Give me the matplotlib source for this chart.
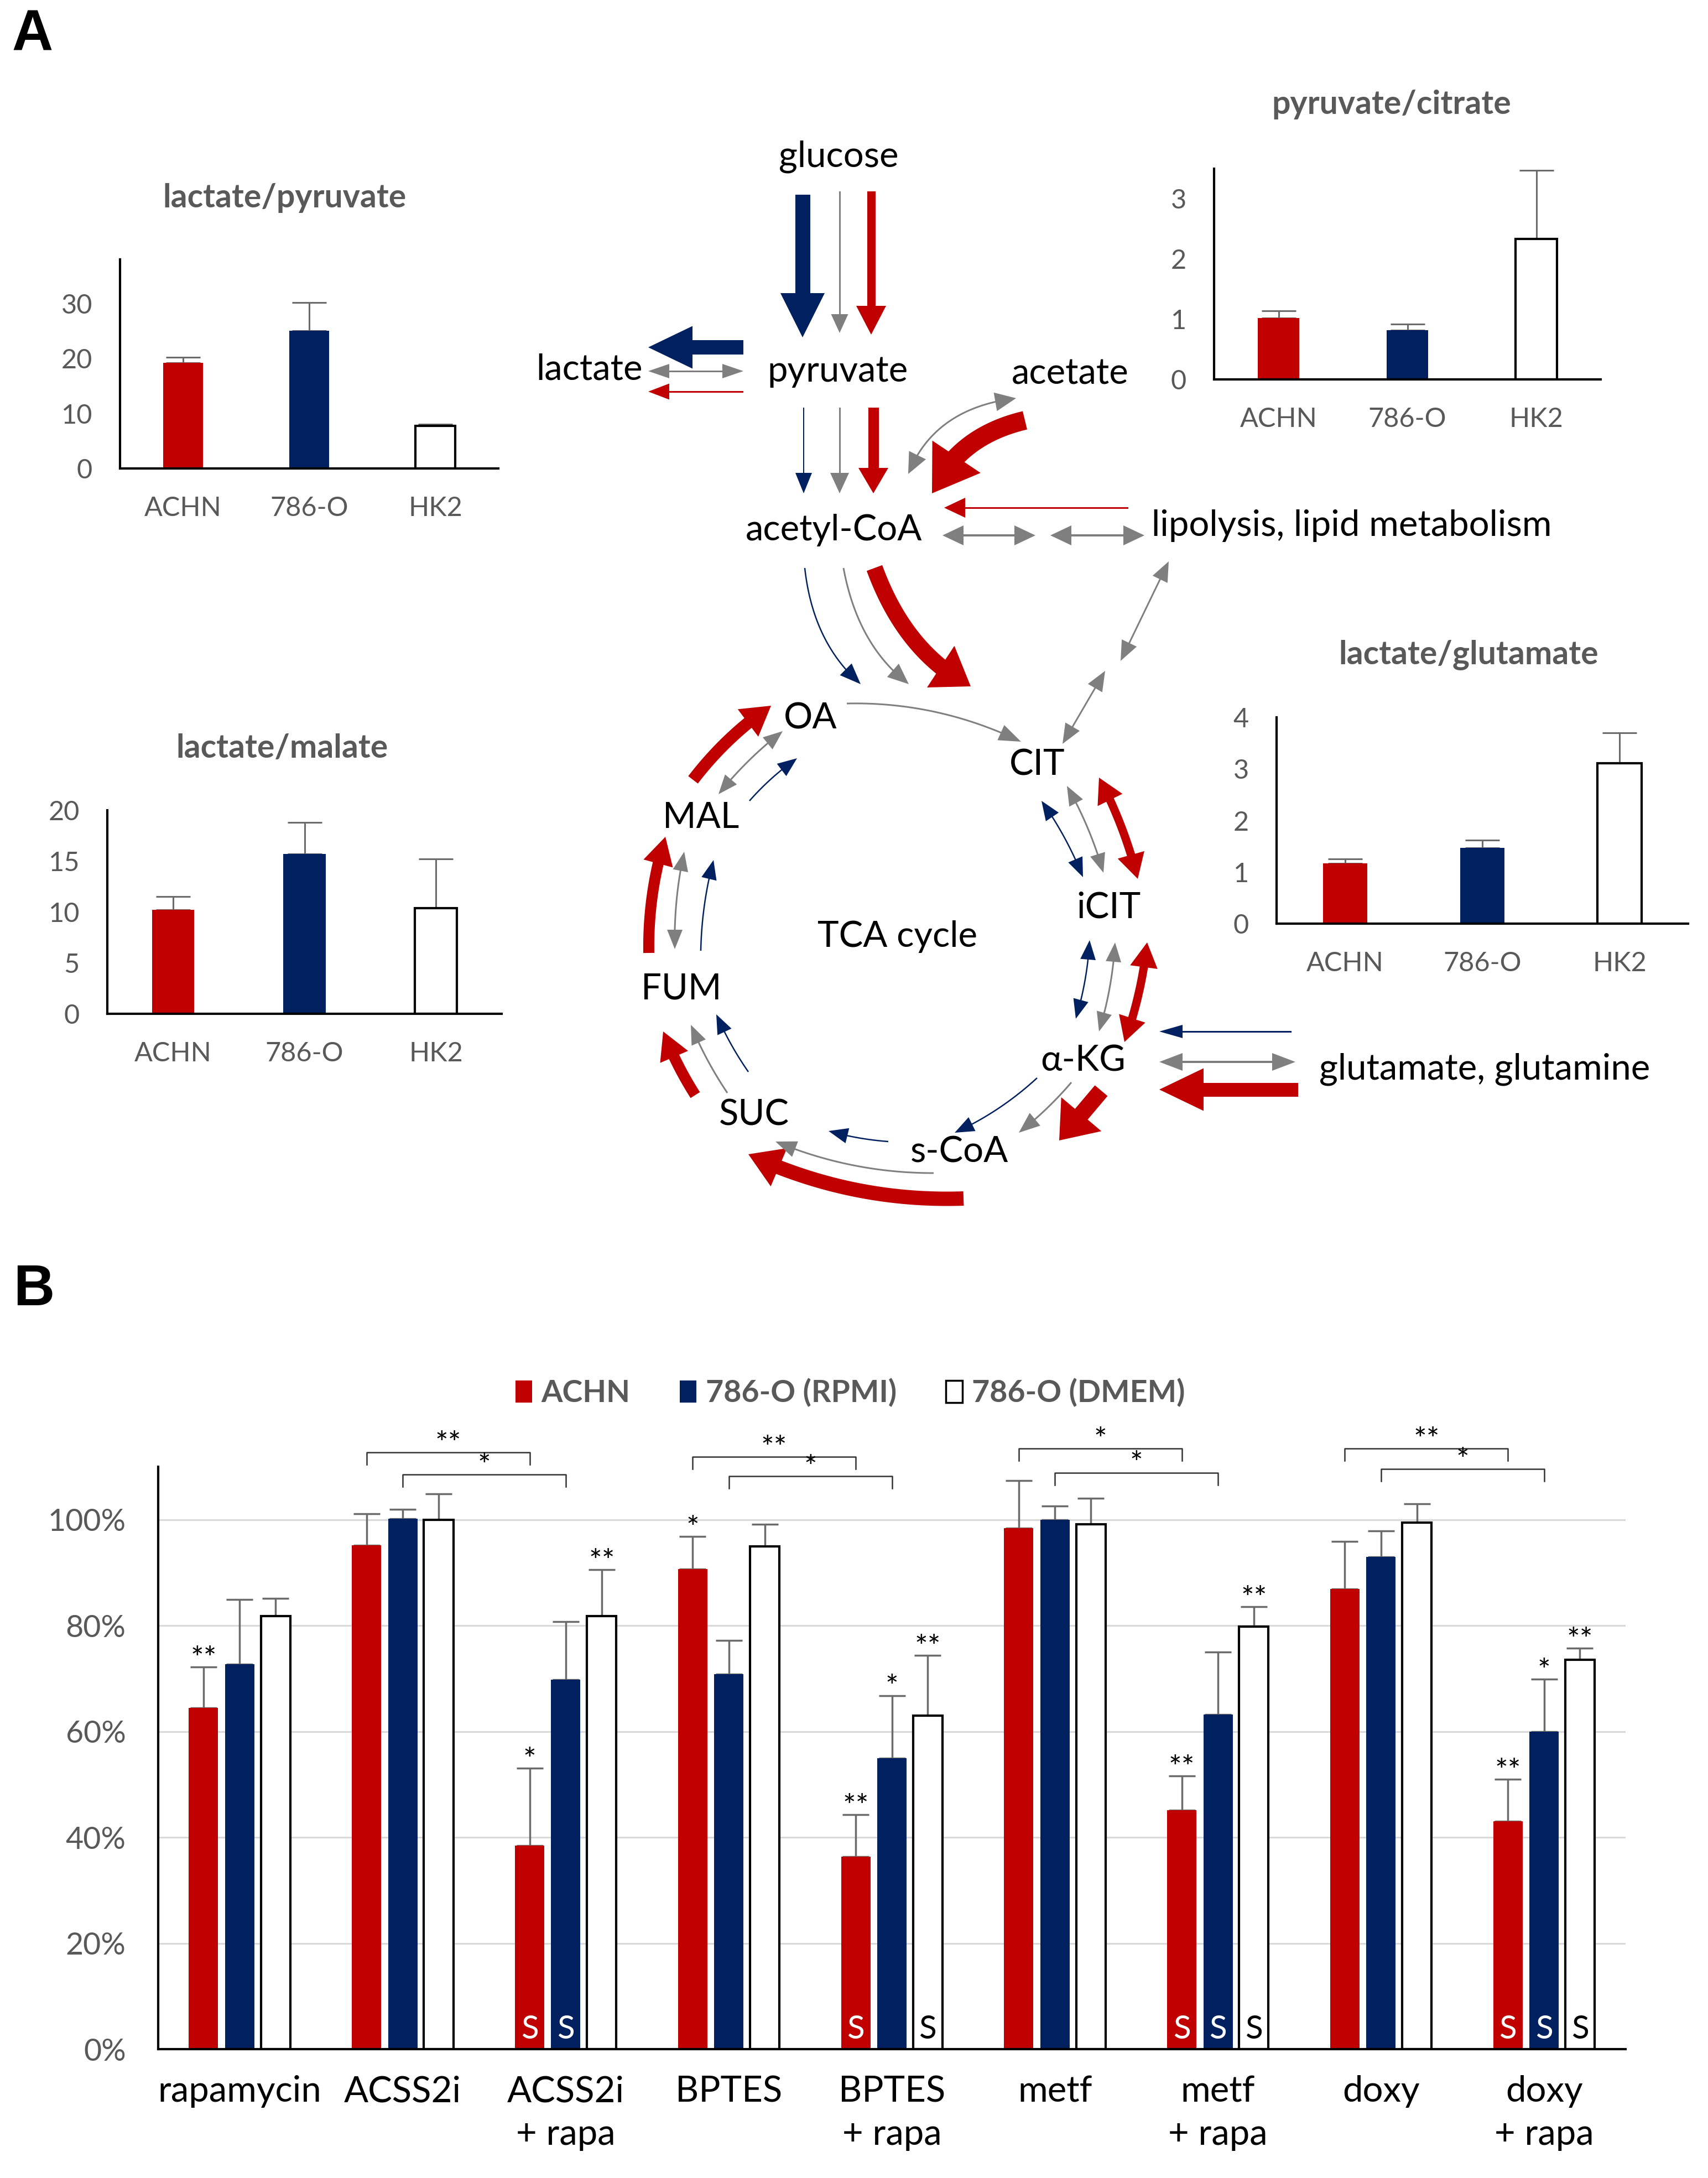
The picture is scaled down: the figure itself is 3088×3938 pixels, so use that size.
import numpy as np
import matplotlib
matplotlib.use('Agg')
import matplotlib.pyplot as plt
from matplotlib.patches import Polygon, Patch

plt.rcParams['font.family'] = ['Lato', 'DejaVu Sans']

W, H = 3088, 3938
RED = '#C00000'
NAVY = '#002060'
GRAY = '#7F7F7F'
TXT_GRAY = '#595959'
ERR_GRAY = '#6B6B6B'

# ---- panel A: small ratio charts ----
cells = ['ACHN', '786-O', 'HK2']
lac_pyr = [19.2, 25.0, 7.7]
lac_pyr_err = [1.0, 5.2, 0.3]
pyr_cit = [1.02, 0.82, 2.33]
pyr_cit_err = [0.12, 0.10, 1.14]
lac_mal = [10.2, 15.7, 10.4]
lac_mal_err = [1.3, 3.1, 4.8]
lac_glu = [1.17, 1.47, 3.11]
lac_glu_err = [0.08, 0.15, 0.59]

# ---- panel B: viability ----
treatments = ['rapamycin', 'ACSS2i', 'ACSS2i\n+ rapa', 'BPTES', 'BPTES\n+ rapa',
              'metf', 'metf\n+ rapa', 'doxy', 'doxy\n+ rapa']
achn = [64.5, 95.2, 38.4, 90.7, 36.4, 98.4, 45.1, 86.9, 43.0]
achn_err = [7.7, 5.9, 14.7, 6.1, 7.9, 9.0, 6.5, 9.0, 8.0]
rpmi = [72.7, 100.2, 69.8, 70.8, 55.0, 100.0, 63.2, 93.0, 60.0]
rpmi_err = [12.2, 1.8, 10.9, 6.4, 11.8, 2.6, 11.8, 4.9, 9.9]
dmem = [81.8, 100.0, 81.8, 95.0, 63.0, 99.1, 79.8, 99.4, 73.5]
dmem_err = [3.3, 4.9, 8.8, 4.1, 11.4, 4.9, 3.8, 3.6, 2.2]
achn_sig = ['**', '', '*', '*', '**', '', '**', '', '**']
rpmi_sig = ['', '', '', '', '*', '', '', '', '*']
dmem_sig = ['', '', '**', '', '**', '', '**', '', '**']
achn_s = [0, 0, 1, 0, 1, 0, 1, 0, 1]
rpmi_s = [0, 0, 1, 0, 0, 0, 1, 0, 1]
dmem_s = [0, 0, 0, 0, 1, 0, 1, 0, 1]
# (group a, series, group b, series, height, label)
brackets = [(1, 0, 2, 0, 112.7, '**'), (1, 1, 2, 1, 108.5, '*'),
            (3, 0, 4, 0, 111.9, '**'), (3, 1, 4, 1, 108.2, '*'),
            (5, 0, 6, 0, 113.4, '*'), (5, 1, 6, 1, 108.9, '*'),
            (7, 0, 8, 0, 113.4, '**'), (7, 1, 8, 1, 109.6, '*')]


def frame(l, t, r, b):
    return [l / W, 1 - b / H, (r - l) / W, (b - t) / H]


fig = plt.figure(figsize=(W / 100, H / 100), dpi=100)

# overlay in pixel coordinates for the pathway sketch
dg = fig.add_axes([0, 0, 1, 1])
dg.set_xlim(0, W)
dg.set_ylim(H, 0)
dg.axis('off')


def curve(p0, p1, bend=0.0, away=(1620, 1700), n=80):
    p0, p1 = np.array(p0, float), np.array(p1, float)
    if bend == 0:
        return np.vstack([p0, p1])
    mid = (p0 + p1) / 2
    u = mid - np.array(away, float)
    u /= np.hypot(*u)
    c = mid + u * bend * np.hypot(*(p1 - p0))
    t = np.linspace(0, 1, n)[:, None]
    return (1 - t) ** 2 * p0 + 2 * (1 - t) * t * c + t ** 2 * p1


def arrow(pts, color, w, hw, hl, both=False):
    pts = np.asarray(pts, float)
    if len(pts) == 2:
        pts = np.linspace(pts[0], pts[1], 20)
    d = np.r_[0, np.cumsum(np.hypot(*np.diff(pts, axis=0).T))]
    L = d[-1]
    at = lambda s: np.array([np.interp(s, d, pts[:, 0]), np.interp(s, d, pts[:, 1])])
    s0 = hl * 0.9 if both else 0
    s1 = L - hl * 0.9
    ss = np.linspace(s0, s1, 60)
    x, y = at(ss)
    tx, ty = np.gradient(x), np.gradient(y)
    nn = np.hypot(tx, ty)
    nx, ny = -ty / nn, tx / nn
    poly = np.vstack([np.c_[x + nx * w / 2, y + ny * w / 2],
                      np.c_[x - nx * w / 2, y - ny * w / 2][::-1]])
    dg.add_patch(Polygon(poly, closed=True, fc=color, ec='none'))
    ends = [(pts[-1], at(L - hl))]
    if both:
        ends.append((pts[0], at(hl)))
    for tip, base in ends:
        u = (tip - base) / np.hypot(*(tip - base))
        nv = np.array([-u[1], u[0]])
        tri = [base + nv * hw / 2, tip, base - nv * hw / 2]
        dg.add_patch(Polygon(tri, closed=True, fc=color, ec='none'))


UP_RIGHT = (1950, 1000)
ACOA = (1900, 800)
# glucose -> pyruvate
arrow([(1451, 352), (1451, 610)], NAVY, 27, 80, 80)
arrow([(1518, 346), (1518, 602)], GRAY, 3, 31, 34)
arrow([(1575, 346), (1575, 605)], RED, 15, 54, 52)
# pyruvate -> lactate
arrow([(1344, 628), (1172, 628)], NAVY, 26, 77, 80)
arrow([(1172, 671), (1344, 671)], GRAY, 3, 26, 38, both=True)
arrow([(1344, 708), (1172, 708)], RED, 3, 29, 38)
# pyruvate -> acetyl-CoA
arrow([(1453, 737), (1453, 892)], NAVY, 2.5, 30, 37)
arrow([(1518, 737), (1518, 892)], GRAY, 3, 34, 37)
arrow([(1579, 737), (1579, 892)], RED, 19, 54, 46)
# acetate
arrow(curve((1837, 720), (1642, 857), 0.3, UP_RIGHT), GRAY, 3, 34, 38, both=True)
arrow(curve((1853, 760), (1685, 892), 0.25, UP_RIGHT), RED, 34, 105, 80)
# lipolysis
arrow([(2040, 918), (1707, 918)], RED, 3, 36, 38)
arrow([(1704, 968), (1872, 968)], GRAY, 4, 36, 38, both=True)
arrow([(1899, 968), (2069, 968)], GRAY, 4, 36, 38, both=True)
arrow([(2113, 1015), (2026, 1195)], GRAY, 3, 30, 36, both=True)
arrow([(1998, 1213), (1921, 1345)], GRAY, 3, 30, 36, both=True)
# acetyl-CoA -> TCA
arrow(curve((1455, 1027), (1556, 1237), 0.2, ACOA), NAVY, 2.5, 30, 38)
arrow(curve((1525, 1027), (1643, 1237), 0.2, ACOA), GRAY, 3, 32, 38)
arrow(curve((1581, 1027), (1755, 1241), 0.2, ACOA), RED, 30, 90, 65)
# OA -> CIT
arrow(curve((1531, 1272), (1846, 1341), 0.12), GRAY, 3, 30, 40)
# MAL -> OA
arrow(curve((1253, 1410), (1394, 1276), 0.08), RED, 22, 62, 52)
arrow(curve((1299, 1436), (1415, 1322), 0.06), GRAY, 3, 28, 35, both=True)
arrow(curve((1355, 1448), (1441, 1371), 0.06), NAVY, 2.5, 28, 35)
# FUM -> MAL
arrow(curve((1173, 1723), (1203, 1513), 0.08), RED, 20, 55, 50)
arrow(curve((1220, 1716), (1237, 1540), 0.06), GRAY, 3, 28, 35, both=True)
arrow(curve((1267, 1719), (1290, 1555), 0.06), NAVY, 2.5, 28, 35)
# SUC -> FUM
arrow(curve((1257, 1980), (1199, 1865), 0.05), RED, 20, 55, 50)
arrow(curve((1315, 1976), (1249, 1853), 0.05), GRAY, 3, 28, 35)
arrow(curve((1353, 1938), (1295, 1834), 0.05), NAVY, 2.5, 28, 35)
# s-CoA -> SUC
arrow(curve((1742, 2167), (1353, 2087), 0.12), RED, 26, 75, 60)
arrow(curve((1688, 2121), (1402, 2064), 0.1), GRAY, 3, 30, 38)
arrow(curve((1606, 2064), (1498, 2045), 0.05), NAVY, 2.5, 28, 35)
# a-KG -> s-CoA
arrow(curve((1875, 1949), (1726, 2048), 0.08), NAVY, 2.5, 28, 35)
arrow(curve((1937, 1957), (1842, 2048), 0.05), GRAY, 3, 30, 38)
arrow([(1991, 1972), (1915, 2062)], RED, 30, 95, 62)
# CIT <-> iCIT
arrow(curve((1883, 1448), (1958, 1586), 0.06), NAVY, 2.5, 28, 35, both=True)
arrow(curve((1929, 1421), (1995, 1578), 0.06), GRAY, 3, 28, 35, both=True)
arrow(curve((1987, 1406), (2057, 1589), 0.06), RED, 15, 50, 45, both=True)
# iCIT <-> a-KG
arrow(curve((1970, 1700), (1945, 1842), 0.06), NAVY, 2.5, 28, 35, both=True)
arrow(curve((2016, 1704), (1987, 1865), 0.06), GRAY, 3, 28, 35, both=True)
arrow(curve((2074, 1704), (2033, 1884), 0.06), RED, 15, 50, 45, both=True)
# glutamate
arrow([(2335, 1865), (2096, 1865)], NAVY, 3, 24, 42)
arrow([(2342, 1920), (2096, 1920)], GRAY, 4, 32, 42, both=True)
arrow([(2347, 1970), (2096, 1970)], RED, 25, 77, 80)

names = [('glucose', 1516, 283), ('pyruvate', 1515, 671), ('lactate', 1065, 668),
         ('acetate', 1935, 676), ('acetyl-CoA', 1508, 958), ('OA', 1465, 1299),
         ('CIT', 1875, 1383), ('iCIT', 2004, 1641), ('α-KG', 1958, 1918),
         ('s-CoA', 1734, 2083), ('SUC', 1363, 2016), ('FUM', 1232, 1788),
         ('MAL', 1267, 1478), ('TCA cycle', 1622, 1693)]
for s, x, y in names:
    dg.text(x, y, s, ha='center', va='center', fontsize=47, color='black')
dg.text(2082, 950, 'lipolysis, lipid metabolism', ha='left', va='center', fontsize=47)
dg.text(2385, 1933, 'glutamate, glutamine', ha='left', va='center', fontsize=47)

for lab, x, y in [('A', 59, 64), ('B', 61, 2333)]:
    fig.text(x / W, 1 - y / H, lab, ha='center', va='center', fontsize=74,
             fontweight='bold', family='Liberation Sans')


def small_chart(rect, vals, errs, ymax, ticks, title, txy):
    ax = fig.add_axes(frame(*rect))
    x = np.arange(len(cells))
    ax.errorbar(x, vals, yerr=[np.zeros(len(vals)), errs], fmt='none', ecolor=ERR_GRAY,
                elinewidth=2.2, capsize=22, capthick=2.2, zorder=1)
    ax.bar(x, vals, width=0.32, color=[RED, NAVY, 'white'],
           edgecolor=['none', 'none', 'black'], linewidth=3, zorder=2)
    ax.set_xlim(-0.5, 2.5)
    ax.set_ylim(0, ymax)
    ax.set_yticks(ticks)
    ax.set_xticks(x, cells)
    for sp in ['top', 'right']:
        ax.spines[sp].set_visible(False)
    for sp in ['left', 'bottom']:
        ax.spines[sp].set_linewidth(3)
    ax.tick_params(length=0, labelsize=35, labelcolor=TXT_GRAY, pad=36)
    ax.patch.set_alpha(0)
    fig.text(txy[0] / W, 1 - txy[1] / H, title, ha='center', va='center',
             fontsize=42.5, fontweight='bold', color=TXT_GRAY)


small_chart((217, 469, 901, 847), lac_pyr, lac_pyr_err, 38, [0, 10, 20, 30],
            'lactate/pyruvate', (515, 358))
small_chart((2195, 305, 2894, 686), pyr_cit, pyr_cit_err, 3.5, [0, 1, 2, 3],
            'pyruvate/citrate', (2516, 189))
small_chart((194, 1465, 907, 1833), lac_mal, lac_mal_err, 20, [0, 5, 10, 15, 20],
            'lactate/malate', (510, 1353))
small_chart((2308, 1297, 3052, 1670), lac_glu, lac_glu_err, 4, [0, 1, 2, 3, 4],
            'lactate/glutamate', (2655, 1185))

# ---- panel B ----
ax = fig.add_axes(frame(286, 2652, 2939, 3705))
x = np.arange(len(treatments))
offs = [-0.222, 0.0, 0.22]
series = [(achn, achn_err, achn_sig, achn_s, RED, 'none', 'white'),
          (rpmi, rpmi_err, rpmi_sig, rpmi_s, NAVY, 'none', 'white'),
          (dmem, dmem_err, dmem_sig, dmem_s, 'white', 'black', 'black')]
for off, (v, e, sig, smark, fc, ec, sc) in zip(offs, series):
    ax.errorbar(x + off, v, yerr=[np.zeros(len(v)), e], fmt='none', ecolor=ERR_GRAY,
                elinewidth=2.5, capsize=17, capthick=2.5, zorder=2)
    ax.bar(x + off, v, width=0.18, color=fc, edgecolor=ec, linewidth=3, zorder=3)
    for i in range(len(v)):
        if sig[i]:
            ax.text(x[i] + off, v[i] + e[i] - 0.3, sig[i], ha='center', va='baseline',
                    fontsize=40, zorder=4)
        if smark[i]:
            ax.text(x[i] + off, 2.0, 'S', ha='center', va='baseline', fontsize=42,
                    color=sc, zorder=4)

for g0, s0, g1, s1, yb, lab in brackets:
    xa, xb = x[g0] + offs[s0], x[g1] + offs[s1]
    ax.plot([xa, xa, xb, xb], [yb - 2.3, yb, yb, yb - 2.3], color='#333333', lw=1.8,
            clip_on=False)
    ax.text((xa + xb) / 2, yb - 0.2, lab, ha='center', va='baseline', fontsize=40,
            clip_on=False)

ax.set_xlim(-0.5, len(treatments) - 0.5)
ax.set_ylim(0, 110)
ax.set_yticks(range(0, 101, 20), [f'{t}%' for t in range(0, 101, 20)])
ax.set_xticks(x, treatments)
for lbl in ax.get_xticklabels():
    lbl.set_linespacing(1.4)
ax.yaxis.grid(True, color='#D9D9D9', lw=2.2)
ax.set_axisbelow(True)
for sp in ['top', 'right']:
    ax.spines[sp].set_visible(False)
for sp in ['left', 'bottom']:
    ax.spines[sp].set_linewidth(3)
    ax.spines[sp].set_zorder(5)
ax.tick_params(axis='y', length=0, labelsize=40, labelcolor=TXT_GRAY, pad=42)
ax.tick_params(axis='x', length=0, labelsize=47, labelcolor='black', pad=34)
ax.patch.set_alpha(0)

handles = [Patch(fc=RED, ec='none'), Patch(fc=NAVY, ec='none'),
           Patch(fc='white', ec='black', lw=2.5)]
leg = ax.legend(handles, ['ACHN', '786-O (RPMI)', '786-O (DMEM)'], ncol=3, loc='center',
                bbox_to_anchor=(1537 / W, 1 - 2518 / H), bbox_transform=fig.transFigure,
                frameon=False, handlelength=0.55, handleheight=0.75, handletextpad=0.3,
                columnspacing=1.6, prop=dict(weight='bold', size=40))
for t in leg.get_texts():
    t.set_color(TXT_GRAY)

fig.savefig('out.png', dpi=100, facecolor='white')
